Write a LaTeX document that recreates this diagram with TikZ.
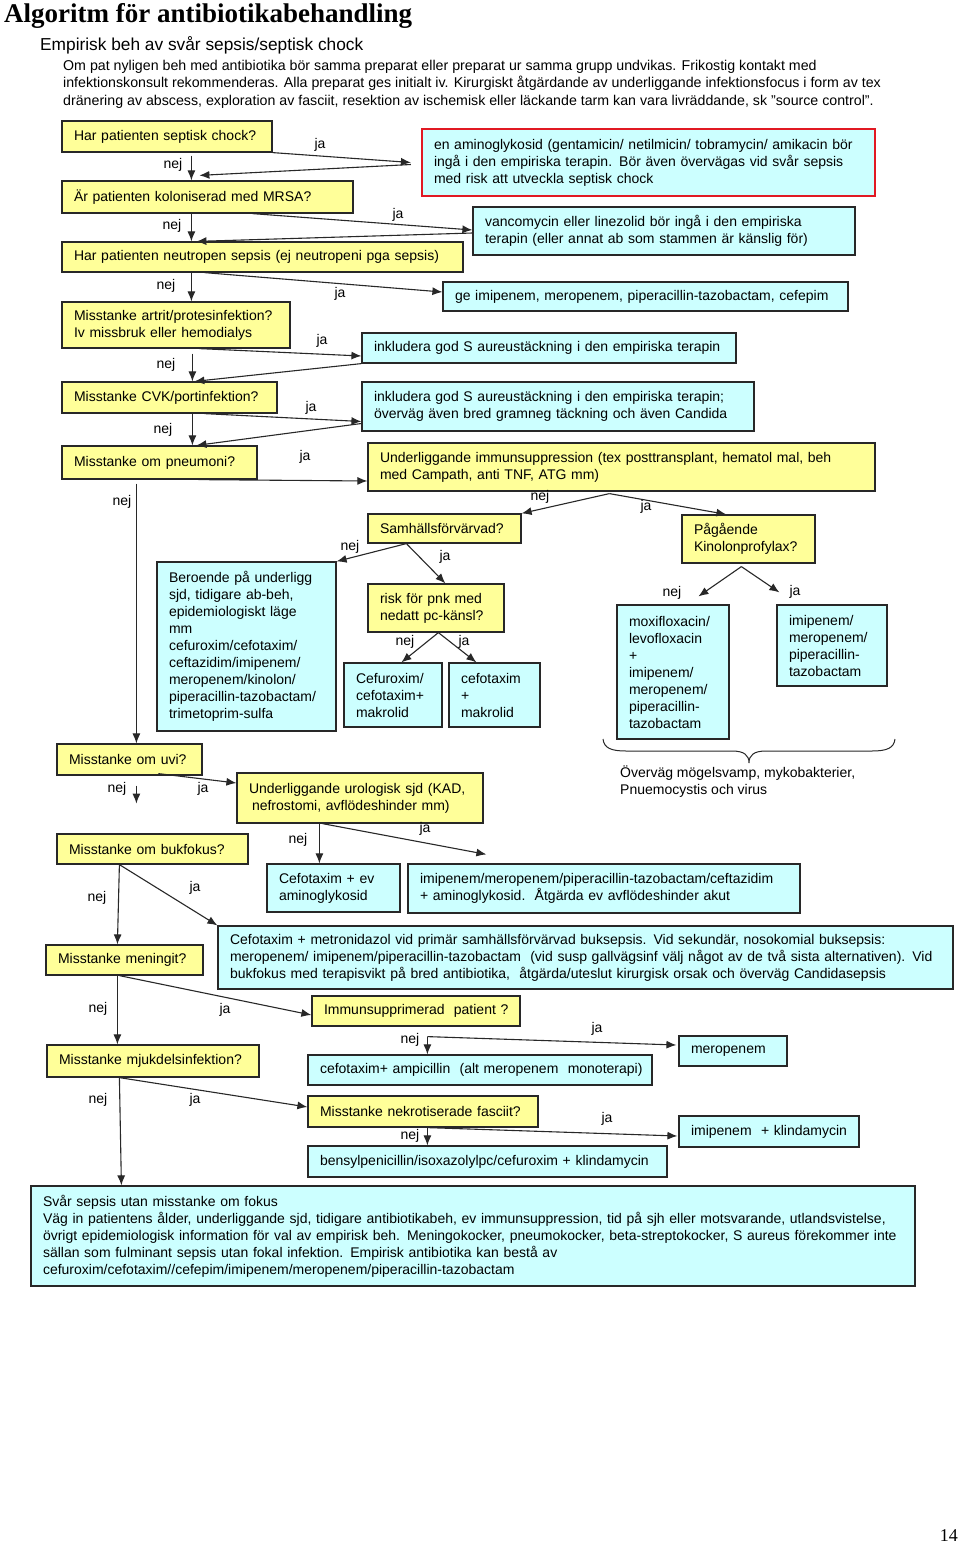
\documentclass[tikz,border=0pt]{standalone}
\usepackage{fontspec}
\setmainfont{Liberation Sans}
\newfontfamily\serifT{Liberation Serif}
\usetikzlibrary{arrows.meta}
\definecolor{qy}{RGB}{255,255,153}
\definecolor{qc}{RGB}{204,255,255}
\definecolor{bd}{RGB}{40,40,40}
\definecolor{qr}{RGB}{225,25,35}
\newcommand\boxfont{\fontsize{14}{17}\selectfont}
\newcommand\bx[7]{%
  \pgfmathsetmacro\bxw{#5-#3}%
  \pgfmathsetmacro\bxh{#6-#4}%
  \pgfmathsetmacro\bxt{#5-#3-24}%
  \node[#1, minimum width=\bxw pt, minimum height=\bxh pt, text width=\bxt pt] (#2) at ({(#3+#5)/2},{(#4+#6)/2}) {#7};}
\newcommand\lb[4]{\node[lbl] (#1) at (#2,#3) {#4};}
\tikzset{
 bxbase/.style={draw=bd, line width=1.2pt, inner sep=0pt, align=left, font=\boxfont},
 yq/.style={bxbase, fill=qy},
 cq/.style={bxbase, fill=qc},
 rq/.style={bxbase, fill=qc, draw=qr, line width=2.2pt},
 arr/.style={draw=bd, line width=1.1pt, -{Latex[length=10pt,width=8pt]}},
 plainline/.style={draw=bd, line width=1pt},
 lbl/.style={font=\boxfont, inner sep=0pt},
 introline/.style={anchor=base west, inner sep=0pt, font=\fontsize{14.2}{17}\selectfont},
}
\begin{document}
\begin{tikzpicture}[x=1pt,y=-1pt]
\fill[white] (0,0) rectangle (960,1543);
\useasboundingbox (0,0) rectangle (960,1543);

\node[anchor=base west, inner sep=0pt, font=\serifT\bfseries\fontsize{27}{30}\selectfont] (title) at (4,22) {Algoritm för antibiotikabehandling};
\node[anchor=base west, inner sep=0pt, font=\fontsize{17.3}{20}\selectfont] (sub) at (40,50) {Empirisk beh av svår sepsis/septisk chock};
\node[introline] (intro1) at (63,70) {Om pat nyligen beh med antibiotika bör samma preparat eller preparat ur samma grupp undvikas. Frikostig kontakt med};
\node[introline] (intro2) at (63,87) {infektionskonsult rekommenderas. Alla preparat ges initialt iv. Kirurgiskt åtgärdande av underliggande infektionsfocus i form av tex};
\node[introline] (intro3) at (63,105) {dränering av abscess, exploration av fasciit, resektion av ischemisk eller läckande tarm kan vara livräddande, sk "source control".};

\bx{yq}{q1}{62}{121}{272}{152}{\mbox{Har patienten septisk chock?}}
\bx{rq}{red}{422}{129}{875}{196}{\mbox{en aminoglykosid (gentamicin/ netilmicin/ tobramycin/ amikacin bör}\\\mbox{ingå i den empiriska terapin. Bör även övervägas vid svår sepsis}\\\mbox{med risk att utveckla septisk chock}}
\bx{yq}{q2}{62}{181}{353}{213}{\mbox{Är patienten koloniserad med MRSA?}}
\bx{cq}{vanc}{473}{207}{855}{255}{\mbox{vancomycin eller linezolid bör ingå i den empiriska}\\\mbox{terapin (eller annat ab som stammen är känslig för)}}
\bx{yq}{q3}{62}{242}{463}{272}{\mbox{Har patienten neutropen sepsis (ej neutropeni pga sepsis)}}
\bx{cq}{ge}{443}{282}{848}{311}{\mbox{ge imipenem, meropenem, piperacillin-tazobactam, cefepim}}
\bx{yq}{q4}{62}{302}{290}{348}{\mbox{Misstanke artrit/protesinfektion?}\\\mbox{Iv missbruk eller hemodialys}}
\bx{cq}{ink1}{362}{333}{736}{363}{\mbox{inkludera god S aureustäckning i den empiriska terapin}}
\bx{yq}{q5}{62}{382}{277}{413}{\mbox{Misstanke CVK/portinfektion?}}
\bx{cq}{ink2}{362}{382}{754}{431}{\mbox{inkludera god S aureustäckning i den empiriska terapin;}\\\mbox{överväg även bred gramneg täckning och även Candida}}
\bx{yq}{q6}{62}{446}{257}{479}{\mbox{Misstanke om pneumoni?}}
\bx{yq}{imm}{368}{443}{875}{491}{\mbox{Underliggande immunsuppression (tex posttransplant, hematol mal, beh}\\\mbox{med Campath, anti TNF, ATG mm)}}
\bx{yq}{samh}{368}{514}{521}{543}{\mbox{Samhällsförvärvad?}}
\bx{yq}{pag}{682}{515}{815}{563}{\mbox{Pågående}\\\mbox{Kinolonprofylax?}}
\bx{cq}{ber}{157}{562}{336}{731}{\mbox{Beroende på underligg}\\\mbox{sjd, tidigare ab-beh,}\\\mbox{epidemiologiskt läge}\\\mbox{mm}\\\mbox{cefuroxim/cefotaxim/}\\\mbox{ceftazidim/imipenem/}\\\mbox{meropenem/kinolon/}\\\mbox{piperacillin-tazobactam/}\\\mbox{trimetoprim-sulfa}}
\bx{yq}{risk}{368}{584}{504}{632}{\mbox{risk för pnk med}\\\mbox{nedatt pc-känsl?}}
\bx{cq}{cef1}{344}{663}{442}{727}{\mbox{Cefuroxim/}\\\mbox{cefotaxim+}\\\mbox{makrolid}}
\bx{cq}{cef2}{449}{663}{540}{727}{\mbox{cefotaxim}\\\mbox{+}\\\mbox{makrolid}}
\bx{cq}{moxi}{617}{605}{729}{739}{\mbox{moxifloxacin/}\\\mbox{levofloxacin}\\\mbox{+}\\\mbox{imipenem/}\\\mbox{meropenem/}\\\mbox{piperacillin-}\\\mbox{tazobactam}}
\bx{cq}{imi}{777}{605}{887}{686}{\mbox{imipenem/}\\\mbox{meropenem/}\\\mbox{piperacillin-}\\\mbox{tazobactam}}
\bx{yq}{q7}{57}{744}{202}{775}{\mbox{Misstanke om uvi?}}
\bx{yq}{uro}{237}{773}{483}{823}{\mbox{Underliggande urologisk sjd (KAD,}\\\mbox{\hspace{3pt}nefrostomi, avflödeshinder mm)}}
\bx{yq}{q8}{57}{834}{248}{864}{\mbox{Misstanke om bukfokus?}}
\bx{cq}{cefa}{267}{864}{400}{912}{\mbox{Cefotaxim + ev}\\\mbox{aminoglykosid}}
\bx{cq}{imip}{408}{864}{800}{913}{\mbox{imipenem/meropenem/piperacillin-tazobactam/ceftazidim}\\\mbox{+ aminoglykosid.\ \ Åtgärda ev avflödeshinder akut}}
\bx{cq}{buk}{218}{926}{953}{989}{\mbox{Cefotaxim + metronidazol vid primär samhällsförvärvad buksepsis. Vid sekundär, nosokomial buksepsis:}\\\mbox{meropenem/ imipenem/piperacillin-tazobactam\ \ (vid susp gallvägsinf välj något av de två sista alternativen). Vid}\\\mbox{bukfokus med terapisvikt på bred antibiotika,\ \ åtgärda/uteslut kirurgisk orsak och överväg Candidasepsis}}
\bx{yq}{q9}{46}{945}{203}{975}{\mbox{Misstanke meningit?}}
\bx{yq}{imsup}{312}{996}{520}{1026}{\mbox{Immunsupprimerad\ \ patient ?}}
\bx{cq}{mero}{679}{1036}{787}{1066}{\mbox{meropenem}}
\bx{yq}{q10}{47}{1045}{259}{1077}{\mbox{Misstanke mjukdelsinfektion?}}
\bx{cq}{amp}{308}{1055}{652}{1085}{\mbox{cefotaxim+ ampicillin\ \ (alt meropenem\ \ monoterapi)}}
\bx{yq}{nek}{308}{1096}{538}{1127}{\mbox{Misstanke nekrotiserade fasciit?}}
\bx{cq}{kli}{679}{1116}{859}{1147}{\mbox{imipenem\ \ + klindamycin}}
\bx{cq}{ben}{308}{1146}{667}{1177}{\mbox{bensylpenicillin/isoxazolylpc/cefuroxim + klindamycin}}
\bx{cq}{bot}{31}{1186}{915}{1286}{\mbox{Svår sepsis utan misstanke om fokus}\\\mbox{Väg in patientens ålder, underliggande sjd, tidigare antibiotikabeh, ev immunsuppression, tid på sjh eller motsvarande, utlandsvistelse,}\\\mbox{övrigt epidemiologisk information för val av empirisk beh. Meningokocker, pneumokocker, beta-streptokocker, S aureus förekommer inte}\\\mbox{sällan som fulminant sepsis utan fokal infektion. Empirisk antibiotika kan bestå av}\\\mbox{cefuroxim/cefotaxim//cefepim/imipenem/meropenem/piperacillin-tazobactam}}

% brace and note
\draw[plainline] (603,739) .. controls (604,748) and (611,751) .. (626,751) -- (732,751) .. controls (744,751) and (749,755) .. (749,763) .. controls (749,755) and (754,751) .. (766,751) -- (872,751) .. controls (887,751) and (894,748) .. (895,739);
\node[lbl, align=left, anchor=west] (ov) at (620,782) {Överväg mögelsvamp, mykobakterier,\\Pnuemocystis och virus};

% connectors
\draw[arr] ([xshift=130pt,yshift=-3pt]q1.south west) -- ([xshift=130pt]q2.north west);
\draw[arr] (q1.south east) -- ([xshift=-10pt]red.west);
\draw[arr] ([xshift=-10pt,yshift=-2pt]red.west) -- ([xshift=138pt,yshift=5pt]q2.north west);

\draw[arr] ([xshift=130pt]q2.south west) -- ([xshift=130pt]q3.north west);
\draw[arr] ([xshift=191pt]q2.south west) -- ([yshift=1pt]vanc.west);
\draw[arr] ([yshift=-2pt]vanc.west) -- ([xshift=135pt]q3.north west);

\draw[arr] ([xshift=130pt]q3.south west) -- ([xshift=130pt]q4.north west);
\draw[arr] ([xshift=143pt]q3.south west) -- ([yshift=4.5pt]ge.west);

\draw[arr] ([xshift=131pt,yshift=-5pt]q4.south west) -- ([xshift=131pt]q5.north west);
\draw[arr] ([xshift=138pt]q4.south west) -- ([yshift=-8pt]ink1.west);
\draw[arr] (ink1.south west) -- ([xshift=133pt]q5.north west);

\draw[arr] ([xshift=131pt]q5.south west) -- ([xshift=131pt]q6.north west);
\draw[arr] ([xshift=143pt]q5.south west) -- ([yshift=-15pt]ink2.west);
\draw[arr] ([yshift=-17pt]ink2.west) -- ([xshift=135pt]q6.north west);

\draw[arr] ([xshift=137pt]q6.south west) -- ([yshift=-14pt]imm.west);
\draw[arr] ([xshift=75pt,yshift=-4pt]q6.south west) -- ([xshift=80pt]q7.north west);

\coordinate (apex) at ([xshift=242pt,yshift=-2pt]imm.south west);
\draw[arr] (apex) -- (samh.north east);
\draw[arr] (apex) -- ([xshift=45pt]pag.north west);

\coordinate (sfork) at ([xshift=39pt]samh.south west);
\draw[arr] (sfork) -- (ber.north east);
\draw[arr] (sfork) -- ([xshift=78pt]risk.north west);

\coordinate (rfork) at ([xshift=71pt]risk.south west);
\draw[arr] (rfork) -- ([xshift=58pt]cef1.north west);
\draw[arr] (rfork) -- ([xshift=28pt]cef2.north west);

\coordinate (pfork) at ([xshift=60pt,yshift=-3pt]pag.south west);
\coordinate (pnej) at ([xshift=82pt,yshift=8pt]moxi.north west);
\coordinate (pja) at ([xshift=3pt,yshift=12pt]imi.north west);
\draw[arr] (pfork) -- (pnej);
\draw[arr] (pfork) -- (pja);

\coordinate (q7end) at ([xshift=80pt,yshift=-28pt]q7.south west);
\draw[arr] ([xshift=80pt,yshift=-10pt]q7.south west) -- (q7end);
\draw[arr] ([xshift=102pt,yshift=2pt]q7.south west) -- ([yshift=15pt]uro.west);

\draw[arr] ([xshift=83pt]uro.south west) -- ([xshift=53pt]cefa.north west);
\coordinate (uroja) at ([xshift=79pt,yshift=9pt]imip.north west);
\draw[arr] ([xshift=86pt]uro.south west) -- (uroja);

\draw[arr] ([xshift=63pt]q8.south west) -- ([xshift=72pt]q9.north west);
\draw[arr] ([xshift=63pt]q8.south west) -- (buk.north west);

\draw[arr] ([xshift=74pt]q9.south west) -- ([yshift=-4pt]imsup.west);
\draw[arr] ([xshift=72pt]q9.south west) -- ([xshift=71pt]q10.north west);

\coordinate (e1) at ([xshift=116pt,yshift=-10pt]imsup.south west);
\draw[arr] (e1) -- ([xshift=-2pt,yshift=6pt]mero.west);
\draw[arr] (e1) -- ([xshift=120pt]amp.north west);

\draw[arr] ([xshift=73pt]q10.south west) -- ([yshift=4.5pt]nek.west);
\draw[arr] ([xshift=73pt]q10.south west) -- ([xshift=91pt]bot.north west);

\coordinate (e2) at ([xshift=120pt]nek.south west);
\draw[arr] (e2) -- ([xshift=-1pt,yshift=-4.5pt]kli.west);
\draw[arr] (e2) -- ([xshift=120pt]ben.north west);

% labels
\lb{l1}{173}{165}{nej} \lb{l2}{320}{145}{ja}
\lb{l3}{398}{215}{ja} \lb{l4}{172}{226}{nej}
\lb{l5}{166}{286}{nej} \lb{l6}{340}{294}{ja}
\lb{l7}{322}{341}{ja} \lb{l8}{166}{365}{nej}
\lb{l9}{311}{408}{ja} \lb{l10}{163}{430}{nej}
\lb{l11}{305}{457}{ja} \lb{l12}{122}{502}{nej}
\lb{l13}{540}{497}{nej} \lb{l14}{646}{507}{ja}
\lb{l15}{350}{547}{nej} \lb{l16}{445}{557}{ja}
\lb{l17}{405}{642}{nej} \lb{l18}{464}{642}{ja}
\lb{l19}{672}{593}{nej} \lb{l20}{795}{592}{ja}
\lb{l21}{117}{789}{nej} \lb{l22}{203}{789}{ja}
\lb{l23}{298}{840}{nej} \lb{l24}{425}{829}{ja}
\lb{l25}{97}{898}{nej} \lb{l26}{195}{888}{ja}
\lb{l27}{98}{1009}{nej} \lb{l28}{225}{1010}{ja}
\lb{l29}{410}{1040}{nej} \lb{l30}{597}{1029}{ja}
\lb{l31}{98}{1100}{nej} \lb{l32}{195}{1100}{ja}
\lb{l33}{410}{1136}{nej} \lb{l34}{607}{1119}{ja}

\node[anchor=base east, inner sep=0pt, font=\serifT\fontsize{18}{20}\selectfont] (pg) at (958,1541) {14};
\end{tikzpicture}
\end{document}
